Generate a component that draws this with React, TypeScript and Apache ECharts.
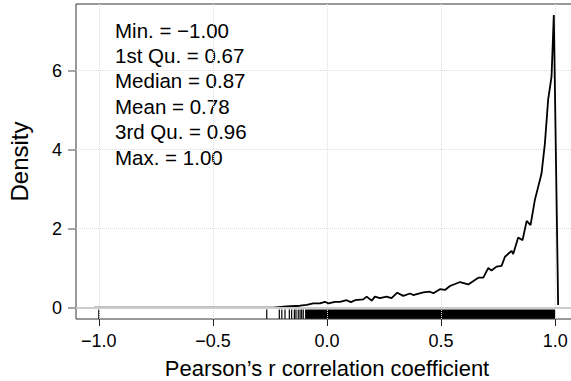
import React, { useEffect, useRef } from "react";
import * as echarts from "echarts";

// Kernel density estimate of Pearson's r
const densityX = [
  -1.02, -0.236, -0.177, -0.118, -0.089, -0.06, -0.031, -0.009, 0.006, 0.035,
  0.057, 0.086, 0.105, 0.123, 0.159, 0.174, 0.196, 0.21, 0.232, 0.261, 0.283,
  0.308, 0.334, 0.364, 0.378, 0.422, 0.451, 0.466, 0.495, 0.517, 0.539, 0.583,
  0.619, 0.663, 0.685, 0.707, 0.721, 0.743, 0.765, 0.78, 0.809, 0.816, 0.838,
  0.857, 0.875, 0.892, 0.911, 0.94, 0.955, 0.969, 0.984, 0.994, 1.013,
];
const densityY = [
  0, 0, 0.03, 0.05, 0.07, 0.11, 0.11, 0.15, 0.11, 0.15,
  0.15, 0.19, 0.14, 0.19, 0.21, 0.28, 0.18, 0.28, 0.24, 0.28, 0.24,
  0.38, 0.3, 0.36, 0.32, 0.39, 0.405, 0.365, 0.47, 0.45, 0.55, 0.65,
  0.59, 0.76, 0.76, 1.01, 0.94, 1.04, 1.06, 1.29, 1.44, 1.36, 1.78,
  1.71, 2.2, 2.09, 2.73, 3.39, 4.16, 5.26, 5.85, 7.41, 0.07,
];

// Rug: individual observations in the sparse left tail
const rugValues = [
  -1.0, -0.264, -0.209, -0.198, -0.184, -0.165, -0.155, -0.143, -0.136,
  -0.126, -0.118, -0.111, -0.104,
];
// Rug: range where observations are so dense the ticks merge into a block
const rugDenseRange = [-0.096, 1.0];

const xTicks = [-1, -0.5, 0, 0.5, 1];
const xTickLabels = ["\u22121.0", "\u22120.5", "0.0", "0.5", "1.0"];
const yTicks = [0, 2, 4, 6];
const yTickLabels = ["0", "2", "4", "6"];

const statLabels = ["Min.", "1st Qu.", "Median", "Mean", "3rd Qu.", "Max."];
const statValues = ["\u22121.00", "0.67", "0.87", "0.78", "0.96", "1.00"];

const X_MIN = -1.1;
const X_MAX = 1.1;
const Y_MIN = -0.286;
const Y_MAX = 7.69;
const RUG_TOP = -0.047;
const FONT = "'Liberation Sans', Arial, Helvetica, sans-serif";

export default function App() {
  const ref = useRef<HTMLDivElement>(null);

  useEffect(() => {
    if (!ref.current) return;
    const chart = echarts.init(ref.current, null, { renderer: "svg" });

    const curve = densityX.map((x, i) => [x, densityY[i]]);

    const option: any = {
      animation: false,
      backgroundColor: "#ffffff",
      textStyle: { fontFamily: FONT },
      grid: {
        left: 76,
        top: 4,
        right: -7,
        bottom: 62,
        show: true,
        borderColor: "#333333",
        borderWidth: 1,
        backgroundColor: "transparent",
        containLabel: false,
        outerBoundsMode: "none",
      },
      xAxis: {
        type: "value",
        min: X_MIN,
        max: X_MAX,
        name: "Pearson\u2019s r correlation coefficient",
        nameLocation: "middle",
        nameGap: 38,
        nameTextStyle: { fontSize: 22, color: "#000", fontFamily: FONT },
        axisLine: { show: false, onZero: false },
        axisTick: {
          show: true,
          length: 7,
          customValues: xTicks,
          lineStyle: { color: "#222", width: 1 },
        },
        axisLabel: {
          customValues: xTicks,
          formatter: (v: number) => {
            const i = xTicks.findIndex((t) => Math.abs(t - v) < 1e-9);
            return i >= 0 ? xTickLabels[i] : "";
          },
          fontSize: 18,
          color: "#000",
          margin: 13,
          fontFamily: FONT,
        },
        splitLine: {
          show: true,
          lineStyle: { color: "#dcdcdc", type: "dotted", width: 1 },
        },
      },
      yAxis: {
        type: "value",
        min: Y_MIN,
        max: Y_MAX,
        name: "Density",
        nameLocation: "middle",
        nameGap: 45,
        nameTextStyle: { fontSize: 24, color: "#000", fontFamily: FONT },
        axisLine: { show: false, onZero: false },
        axisTick: {
          show: true,
          length: 8,
          customValues: yTicks,
          lineStyle: { color: "#888", width: 1.5 },
        },
        axisLabel: {
          customValues: yTicks,
          formatter: (v: number) => {
            const i = yTicks.findIndex((t) => Math.abs(t - v) < 1e-9);
            return i >= 0 ? yTickLabels[i] : "";
          },
          fontSize: 18,
          color: "#000",
          margin: 14,
          fontFamily: FONT,
        },
        splitLine: {
          show: true,
          lineStyle: { color: "#dcdcdc", type: "dotted", width: 1 },
        },
      },
      series: [
        {
          type: "custom",
          name: "rugDense",
          z: -1,
          data: [rugDenseRange],
          renderItem: (params: any, api: any) => {
            const a = api.coord([api.value(0), RUG_TOP]);
            const b = api.coord([api.value(1), Y_MIN]);
            return {
              type: "rect",
              shape: { x: a[0], y: a[1], width: b[0] - a[0], height: b[1] - a[1] },
              style: { fill: "#000" },
            };
          },
          markLine: {
            silent: true,
            symbol: "none",
            label: { show: false },
            lineStyle: { color: "#cccccc", type: "solid", width: 2 },
            data: [{ yAxis: 0 }],
          },
        },
        {
          type: "custom",
          name: "rug",
          z: -1,
          data: rugValues.map((v) => [v, 0]),
          renderItem: (params: any, api: any) => {
            const x = api.value(0);
            const p1 = api.coord([x, Y_MIN]);
            const p2 = api.coord([x, RUG_TOP]);
            return {
              type: "line",
              shape: { x1: p1[0], y1: p1[1], x2: p2[0], y2: p2[1] },
              style: { stroke: "#000", lineWidth: 1.2 },
            };
          },
        },
        {
          type: "line",
          name: "density",
          data: curve,
          showSymbol: false,
          symbol: "none",
          smooth: false,
          lineStyle: { color: "#000", width: 1.8 },
          z: 3,
        },
      ],
      graphic: statLabels.map((lab, i) => ({
        type: "text",
        x: 115,
        y: 30 + i * 25.4,
        style: {
          text: `${lab} = ${statValues[i]}`,
          fontSize: 20.5,
          fontFamily: FONT,
          fill: "#000",
          verticalAlign: "middle",
          align: "left",
        },
      })),
    };

    chart.setOption(option);
    return () => chart.dispose();
  }, []);

  return <div ref={ref} style={{ width: 571, height: 381, position: "absolute", left: 0, top: 0 }} />;
}
